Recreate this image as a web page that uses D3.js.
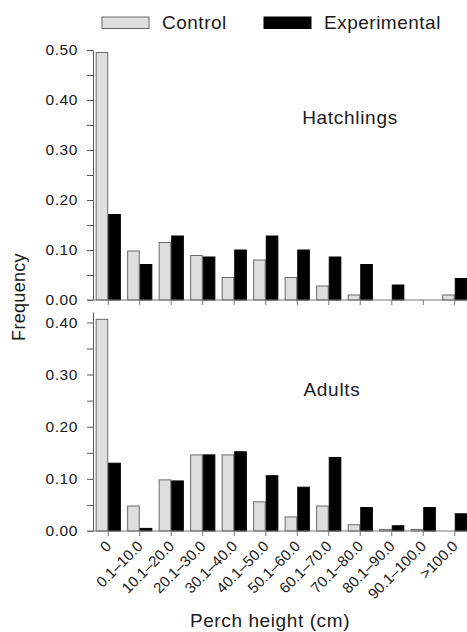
<!DOCTYPE html>
<html>
<head>
<meta charset="utf-8">
<script src="https://cdn.jsdelivr.net/npm/d3@7/dist/d3.min.js"></script>
<style>
  body { margin: 0; background: #fff; }
  svg { display: block; font-family: "Liberation Sans", Arial, sans-serif; }
</style>
</head>
<body>
<div id="container"></div>
<script>
const w = 467;
const h = 632;

// perch height classes
const categories = ["0", "0.1\u201310.0", "10.1\u201320.0", "20.1\u201330.0", "30.1\u201340.0", "40.1\u201350.0",
  "50.1\u201360.0", "60.1\u201370.0", "70.1\u201380.0", "80.1\u201390.0", "90.1\u2013100.0", ">100.0"];
const series = ["Control", "Experimental"];

// frequencies
const hatchControl = [0.495, 0.098, 0.115, 0.089, 0.045, 0.080, 0.045, 0.028, 0.010, 0, 0, 0.010];
const hatchExperimental = [0.171, 0.071, 0.128, 0.086, 0.100, 0.128, 0.100, 0.086, 0.071, 0.030, 0, 0.043];
const adultControl = [0.406, 0.048, 0.098, 0.146, 0.146, 0.056, 0.027, 0.048, 0.012, 0.003, 0.003, 0];
const adultExperimental = [0.130, 0.005, 0.096, 0.146, 0.152, 0.106, 0.084, 0.141, 0.045, 0.010, 0.045, 0.033];

const hatchTicks = d3.range(0, 0.5001, 0.05);
const adultTicks = d3.range(0, 0.4001, 0.05);

const colors = { Control: "#dedede", Experimental: "#000" };
const strokes = { Control: "#6a6a6a", Experimental: "#000" };

const svg = d3.select("#container").append("svg")
  .attr("width", w)
  .attr("height", h);

const x0 = d3.scaleBand()
  .domain(categories)
  .range([92.5, 470.5])
  .paddingInner(0.2)
  .paddingOuter(0.1);

const x1 = d3.scaleBand()
  .domain(series)
  .range([0, x0.bandwidth()]);

const axisX = 93;

function panel(y, ticks, control, experimental, label, labelX, labelY, showLabels) {
  const g = svg.append("g");
  const rows = categories.map((c, i) => ({ cat: c, Control: control[i], Experimental: experimental[i] }));

  // bars
  g.selectAll("g.grp")
    .data(rows)
    .join("g")
      .attr("class", "grp")
      .attr("transform", d => `translate(${x0(d.cat)},0)`)
    .selectAll("rect")
    .data(d => series.map(s => ({ key: s, value: d[s] })).filter(d => d.value > 0))
    .join("rect")
      .attr("x", d => x1(d.key) + 0.5)
      .attr("width", x1.bandwidth() - 1)
      .attr("y", d => y(d.value))
      .attr("height", d => y(0) - y(d.value))
      .attr("fill", d => colors[d.key])
      .attr("stroke", d => strokes[d.key])
      .attr("stroke-width", 1);

  // y axis
  const ya = g.append("g")
    .attr("transform", `translate(${axisX},0)`)
    .call(d3.axisLeft(y)
      .tickValues(ticks)
      .tickSize(6)
      .tickSizeOuter(0)
      .tickPadding(9)
      .tickFormat(d => Math.round(d * 100) % 10 === 0 ? d3.format(".2f")(d) : ""));
  ya.select(".domain").attr("stroke", "#555");
  ya.selectAll(".tick line").attr("stroke", "#555");
  ya.selectAll("text")
    .attr("font-size", 15.5)
    .attr("font-family", "Liberation Sans, Arial, sans-serif")
    .attr("letter-spacing", 0.6)
    .attr("fill", "#1a1a1a");

  // x axis
  const xa = g.append("g")
    .attr("transform", `translate(0,${y(0)})`)
    .call(d3.axisBottom(x0).tickSize(5).tickSizeOuter(0).tickFormat(showLabels ? (d => d) : ""));
  xa.select(".domain").remove();
  xa.append("line")
    .attr("x1", axisX - 6).attr("x2", w)
    .attr("stroke", "#777");
  xa.selectAll(".tick line").attr("stroke", "#777");
  if (showLabels) {
    xa.selectAll(".tick text")
      .attr("font-size", 15)
      .attr("font-family", "Liberation Sans, Arial, sans-serif")
      .attr("fill", "#1a1a1a")
      .attr("text-anchor", "end")
      .attr("dy", null)
      .attr("y", null)
      .attr("transform", "translate(4,16) rotate(-45)");
  }

  g.append("text")
    .attr("x", labelX)
    .attr("y", labelY)
    .attr("text-anchor", "middle")
    .attr("font-size", 19)
    .attr("letter-spacing", 0.7)
    .attr("fill", "#1a1a1a")
    .text(label);
}

const yTop = d3.scaleLinear().domain([0, 0.5]).range([300, 50]);
const yBot = d3.scaleLinear().domain([0, 0.42]).range([531, 312]);

panel(yTop, hatchTicks, hatchControl, hatchExperimental, "Hatchlings", 350, 124, false);
panel(yBot, adultTicks, adultControl, adultExperimental, "Adults", 332, 396, true);

// legend
const legend = svg.append("g");
const legendX = { Control: 102, Experimental: 264 };
series.forEach(s => {
  legend.append("rect")
    .attr("x", legendX[s]).attr("y", 17)
    .attr("width", 47).attr("height", 11.5)
    .attr("fill", colors[s]).attr("stroke", strokes[s]);
  legend.append("text")
    .attr("x", legendX[s] + 60).attr("y", 28.5)
    .attr("font-size", 19)
    .attr("letter-spacing", 0.5)
    .attr("fill", "#1a1a1a")
    .text(s);
});

// axis titles
svg.append("text")
  .attr("transform", "translate(25,297) rotate(-90)")
  .attr("text-anchor", "middle")
  .attr("font-size", 18)
  .attr("letter-spacing", 0.3)
  .attr("fill", "#1a1a1a")
  .text("Frequency");

svg.append("text")
  .attr("x", 270).attr("y", 627)
  .attr("text-anchor", "middle")
  .attr("font-size", 19)
  .attr("letter-spacing", 0.6)
  .attr("fill", "#1a1a1a")
  .text("Perch height (cm)");
</script>
</body>
</html>
